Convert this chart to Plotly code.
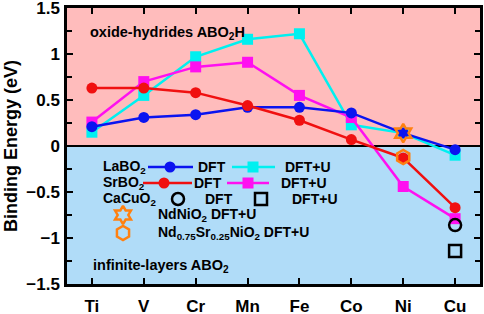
import plotly.graph_objects as go

elements = ["Ti", "V", "Cr", "Mn", "Fe", "Co", "Ni", "Cu"]
x_idx = list(range(len(elements)))

la_dft = [0.21, 0.31, 0.34, 0.42, 0.42, 0.36, 0.14, -0.04]
la_dftu = [0.15, 0.55, 0.97, 1.16, 1.22, 0.23, 0.14, -0.10]
sr_dft = [0.63, 0.63, 0.58, 0.44, 0.28, 0.07, -0.13, -0.67]
sr_dftu = [0.26, 0.70, 0.86, 0.91, 0.55, 0.31, -0.44, -0.79]
cacuo2_dft = -0.86
cacuo2_dftu = -1.14
ndnio2_dftu = 0.14
ndsr_dftu = -0.12

y_ticks = [-1.5, -1, -0.5, 0, 0.5, 1, 1.5]
y_ticktext = ["\u22121.5", "\u22121", "\u22120.5", "0", "0.5", "1", "1.5"]

BLUE = "#0a14f0"
RED = "#f01010"
CYAN = "#00f0f0"
MAG = "#ff10f0"
ORANGE = "#ff8010"
PINK = "#ffbcbc"
LBLUE = "#b0dcf8"
FONT = "Liberation Sans"

fig = go.Figure()

def series(y, color, symbol, name):
    fig.add_trace(go.Scatter(x=x_idx, y=y, mode="lines+markers", name=name,
                             line=dict(color=color, width=2.5),
                             marker=dict(color=color, symbol=symbol, size=11, line=dict(width=0)),
                             showlegend=False))

series(la_dftu, CYAN, "square", "LaBO2 DFT+U")
series(sr_dftu, MAG, "square", "SrBO2 DFT+U")
series(la_dft, BLUE, "circle", "LaBO2 DFT")
series(sr_dft, RED, "circle", "SrBO2 DFT")

fig.add_trace(go.Scatter(x=[7], y=[cacuo2_dft], mode="markers", showlegend=False,
                         marker=dict(symbol="circle-open", size=12, color="black", line=dict(width=2.5))))
fig.add_trace(go.Scatter(x=[7], y=[cacuo2_dftu], mode="markers", showlegend=False,
                         marker=dict(symbol="square-open", size=12, color="black", line=dict(width=2.5))))
fig.add_trace(go.Scatter(x=[6], y=[ndnio2_dftu], mode="markers", showlegend=False,
                         marker=dict(symbol="hexagram-open", size=14, color=ORANGE, line=dict(width=2.5))))
fig.add_trace(go.Scatter(x=[6], y=[ndsr_dftu], mode="markers", showlegend=False,
                         marker=dict(symbol="hexagon-open", size=14, color=ORANGE, line=dict(width=2.5))))

# background regions
fig.add_shape(type="rect", xref="paper", yref="y", x0=0, x1=1, y0=0, y1=1.5,
              fillcolor=PINK, line=dict(width=0), layer="below")
fig.add_shape(type="rect", xref="paper", yref="y", x0=0, x1=1, y0=-1.5, y1=0,
              fillcolor=LBLUE, line=dict(width=0), layer="below")
fig.add_shape(type="line", xref="paper", yref="y", x0=0, x1=1, y0=0, y1=0,
              line=dict(color="black", width=2), layer="below")

# custom legend on an overlay axis in pixel-like units
def key_line(x0, x1, y, color, symbol, xm):
    fig.add_trace(go.Scatter(x=[x0, x1], y=[y, y], mode="lines", xaxis="x2", yaxis="y2",
                             line=dict(color=color, width=2.5), showlegend=False, hoverinfo="skip"))
    fig.add_trace(go.Scatter(x=[xm], y=[y], mode="markers", xaxis="x2", yaxis="y2",
                             marker=dict(color=color, symbol=symbol, size=11, line=dict(width=0)),
                             showlegend=False, hoverinfo="skip"))

def key_marker(xm, y, color, symbol, size):
    fig.add_trace(go.Scatter(x=[xm], y=[y], mode="markers", xaxis="x2", yaxis="y2",
                             marker=dict(color=color, symbol=symbol, size=size, line=dict(width=2.5)),
                             showlegend=False, hoverinfo="skip"))

def txt(x, y, s, anchor="left", size=14):
    fig.add_annotation(x=x, y=y, xref="x2", yref="y2", text=s, showarrow=False,
                       xanchor=anchor, yanchor="middle",
                       font=dict(family=FONT, size=size, color="black", weight="bold"))

r1, r2, r3, r4, r5 = 167, 183, 199, 215, 233
txt(101, r1, "LaBO<sub>2</sub>")
key_line(148, 193, r1, BLUE, "circle", 170)
txt(196, r1, "DFT")
key_line(232, 275, r1, CYAN, "square", 253)
txt(283, r1, "DFT+U")

txt(101, r2, "SrBO<sub>2</sub>")
key_line(143, 192, r2, RED, "circle", 164)
txt(192, r2, "DFT")
key_line(227, 269, r2, MAG, "square", 248)
txt(279, r2, "DFT+U")

txt(101, r3, "CaCuO<sub>2</sub>")
key_marker(178, r3, "black", "circle-open", 12)
txt(203, r3, "DFT")
key_marker(261, r3, "black", "square-open", 12)
txt(290, r3, "DFT+U")

key_marker(123, r4, ORANGE, "hexagram-open", 14)
txt(156, r4, "NdNiO<sub>2</sub> DFT+U")
key_marker(123, r5, ORANGE, "hexagon-open", 14)
txt(156, r5, "Nd<sub>0.75</sub>Sr<sub>0.25</sub>NiO<sub>2</sub> DFT+U")

txt(88, 33, "oxide-hydrides ABO<sub>2</sub>H", size=14.5)
txt(91, 266, "infinite-layers ABO<sub>2</sub>", size=14.5)

fig.update_layout(
    width=484, height=314,
    margin=dict(l=67, r=4, t=8, b=30, autoexpand=False),
    plot_bgcolor="white", paper_bgcolor="white",
    font=dict(family=FONT, color="black"),
    xaxis=dict(range=[-0.48, 7.48], tickvals=x_idx, ticktext=elements, automargin=False,
               ticks="inside", ticklen=6, tickwidth=2, tickcolor="black",
               showline=True, linewidth=2.5, linecolor="black", mirror="allticks",
               showgrid=False, zeroline=False, ticklabelstandoff=5, ticklabeloverflow="allow",
               tickfont=dict(family=FONT, size=17, weight="bold")),
    yaxis=dict(range=[-1.5, 1.5], tickvals=y_ticks, ticktext=y_ticktext, automargin=False,
               ticks="inside", ticklen=6, tickwidth=2, tickcolor="black",
               minor=dict(tickvals=[-1.25, -0.75, -0.25, 0.25, 0.75, 1.25],
                          ticks="inside", ticklen=5, tickwidth=2, tickcolor="black"),
               showline=True, linewidth=2.5, linecolor="black", mirror="allticks",
               showgrid=False, zeroline=False, ticklabelstandoff=1, ticklabeloverflow="allow",
               tickfont=dict(family=FONT, size=17, weight="bold"),
               title=dict(text="Binding Energy (eV)", standoff=4,
                          font=dict(family=FONT, size=18, weight="bold"))),
    xaxis2=dict(range=[67, 480], overlaying="x", visible=False, showgrid=False, zeroline=False),
    yaxis2=dict(range=[284, 8], overlaying="y", visible=False, showgrid=False, zeroline=False),
)

fig.write_html("out.html", config={"displayModeBar": False},
               post_script="document.body.style.margin='0';")
